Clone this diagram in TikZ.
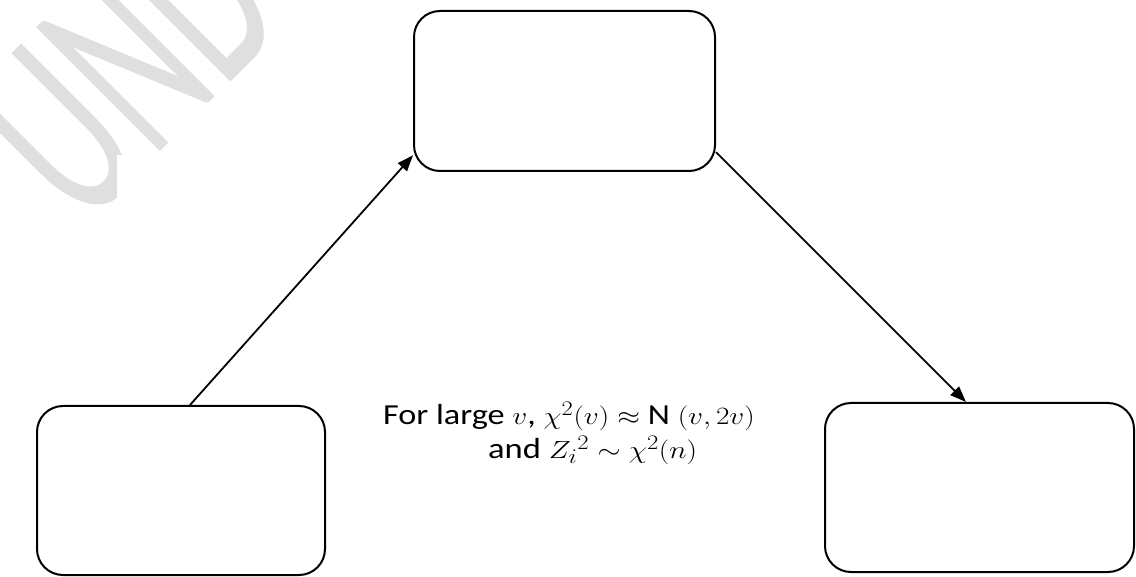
\documentclass[tikz,border=0pt]{standalone}
\usepackage{fontspec}
\setmainfont{Carlito}
\usetikzlibrary{arrows.meta}
\definecolor{wm}{HTML}{DFDFDF}
\begin{document}
\begin{tikzpicture}[x=1pt,y=-1pt,
  box/.style={draw=black, line width=2pt, rounded corners=26pt, inner sep=0pt},
  conn/.style={line width=1.8pt, -{Triangle[length=16pt,width=12pt]}},
  lbl/.style={anchor=base west, inner sep=0pt, font=\fontsize{29}{34}\selectfont}
  ]
\useasboundingbox (0,0) rectangle (1136,577);
\begin{scope}
\clip (0,0) rectangle (1136,577);
\node[anchor=base west, inner sep=0pt, rotate=45, text=wm, font=\fontsize{155}{155}\selectfont] (wm) at (82,230.5) {\scalebox{1}[1.76]{UND}};
\fill[white] (117,155) rectangle (1136,577);
\end{scope}
\node[box, minimum width=301pt, minimum height=160pt] (tb) at (564.5,91) {};
\node[box, minimum width=288pt, minimum height=169pt] (lb) at (181,490.5) {};
\node[box, minimum width=309pt, minimum height=169pt] (rb) at (979.5,487.5) {};
\draw[conn] (lb.84.6) -- (tb.203.2);
\draw[conn] (tb.-22.5) -- (rb.99.3);
\node[lbl] (t1) at (383,424.3) {\scalebox{1.18}[1]{For large $v$, $\chi^2(v)\approx$ N $(v,2v)$}};
\node[lbl] (t2) at (488,458.3) {\scalebox{1.19}[1]{and $Z_i{}^2\sim\chi^2(n)$}};
\end{tikzpicture}
\end{document}
